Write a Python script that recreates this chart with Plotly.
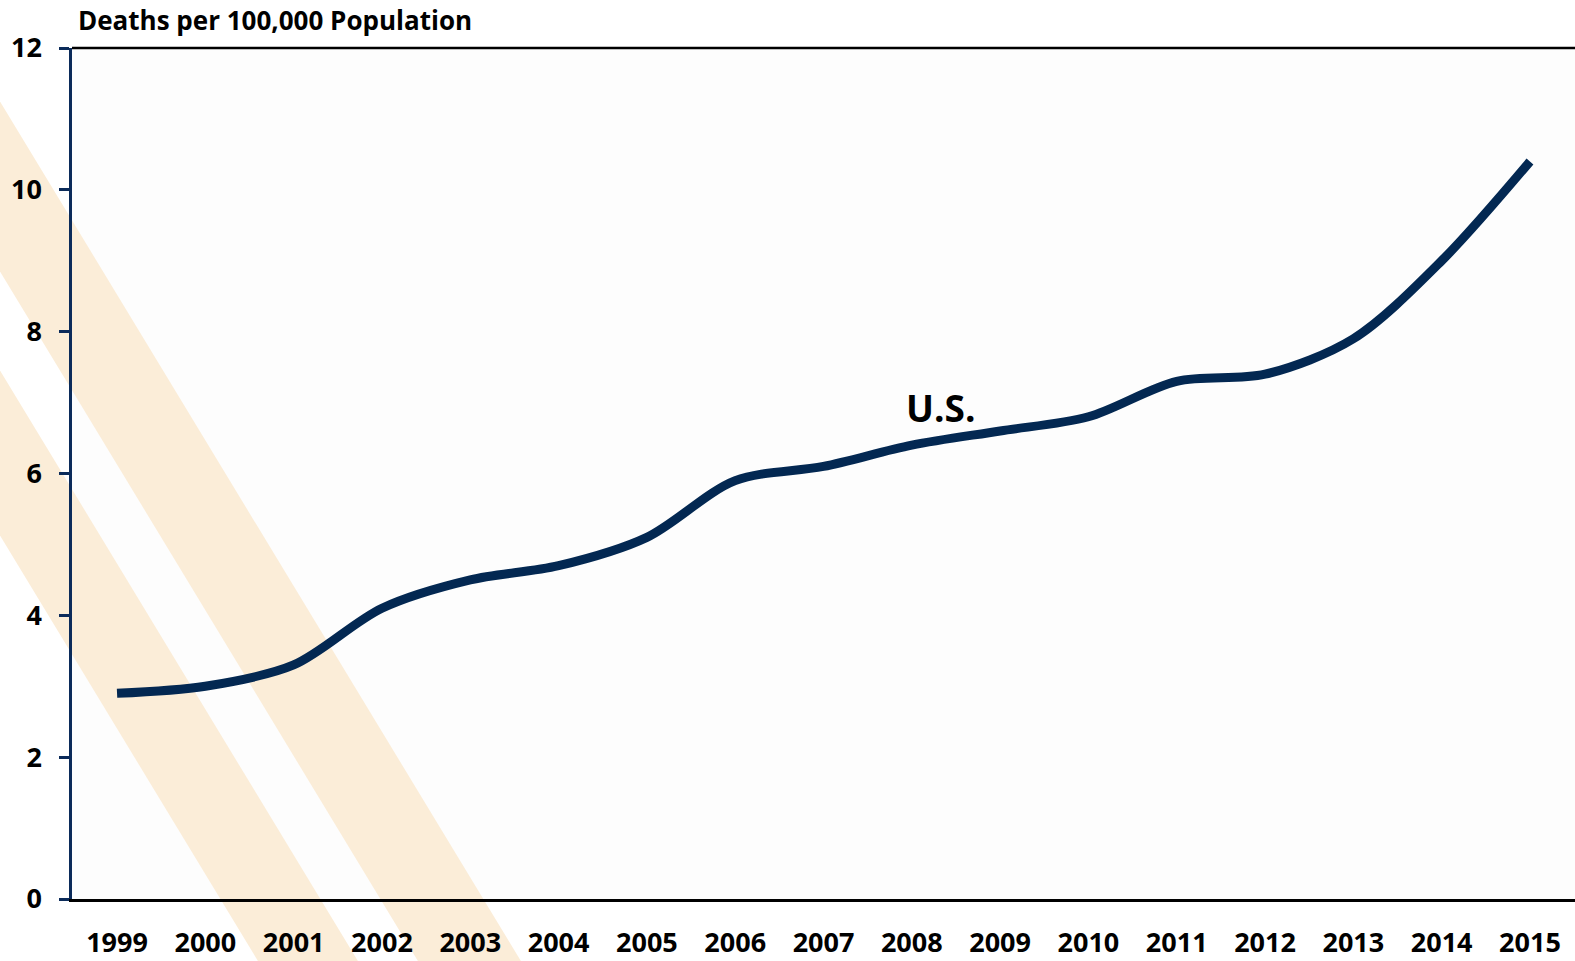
import plotly.graph_objects as go

years = list(range(1999, 2016))
rates = [2.9, 3.0, 3.3, 4.1, 4.5, 4.7, 5.1, 5.9, 6.1, 6.4, 6.6, 6.8, 7.3, 7.4, 7.9, 9.0, 10.4]
y_ticks = [0, 2, 4, 6, 8, 10, 12]
y_title = "Deaths per 100,000 Population"
series_label = "U.S."

W, H = 1575, 961
L, R, T, B = 72, 0, 48, 62
PW, PH = W - L - R, H - T - B

def px(x):  # screen x -> paper
    return (x - L) / PW

def py(y):  # screen y -> paper
    return (H - B - y) / PH

FONT = "'Open Sans', Lato, sans-serif"

fig = go.Figure()
fig.add_trace(go.Scatter(
    x=years, y=rates, mode="lines",
    line=dict(color="#032852", width=9, shape="spline", smoothing=0.9),
    showlegend=False, hoverinfo="x+y",
))

# decorative diagonal stripes (screen pixel geometry)
slope = 1.65
def band(x_left580, x_right580, y0=-50, y1=1011):
    def xat(x580, y):
        return x580 + (y - 580) / slope
    pts = [(xat(x_left580, y0), y0), (xat(x_right580, y0), y0),
           (xat(x_right580, y1), y1), (xat(x_left580, y1), y1)]
    path = "M " + " L ".join(f"{px(a):.5f},{py(b):.5f}" for a, b in pts) + " Z"
    return dict(type="path", path=path, xref="paper", yref="paper",
                fillcolor="#FBEDD8", line=dict(width=0), layer="below")

shapes = [band(27, 127), band(187, 290),
          dict(type="line", xref="paper", yref="paper", x0=0, x1=1, y0=1, y1=1,
               line=dict(color="black", width=2.5), layer="above")]

fig.update_layout(
    width=W, height=H,
    margin=dict(l=L, r=R, t=T, b=B),
    paper_bgcolor="white", plot_bgcolor="#FDFDFD",
    shapes=shapes,
    font=dict(family=FONT, color="black"),
    xaxis=dict(
        range=[1998.49, 2015.51], tickmode="array", tickvals=years,
        ticktext=[str(y) for y in years],
        showgrid=False, zeroline=False, showline=True, linecolor="black", linewidth=3,
        ticks="", tickfont=dict(family=FONT, size=27, color="black", weight="bold"),
        ticklabelstandoff=18,
    ),
    yaxis=dict(
        range=[0, 12], tickmode="array", tickvals=y_ticks,
        showgrid=False, zeroline=False, showline=True, linecolor="#0B2B5A", linewidth=2.5,
        ticks="outside", ticklen=10, tickwidth=2.5, tickcolor="#0B2B5A",
        tickfont=dict(family=FONT, size=27, color="black", weight="bold"),
        ticklabelstandoff=12,
    ),
    annotations=[
        dict(text=y_title, xref="paper", yref="paper", x=px(76), y=py(0),
             xanchor="left", yanchor="top", showarrow=False,
             font=dict(family=FONT, size=26, color="black", weight="bold")),
        dict(text=series_label, xref="x", yref="y", x=2008.32, y=6.93,
             xanchor="center", yanchor="middle", showarrow=False,
             font=dict(family=FONT, size=37, color="black", weight="bold")),
    ],
)

fig.write_html("out.html", config={"displayModeBar": False},
               post_script="document.body.style.margin='0px';document.documentElement.style.overflow='hidden';")
